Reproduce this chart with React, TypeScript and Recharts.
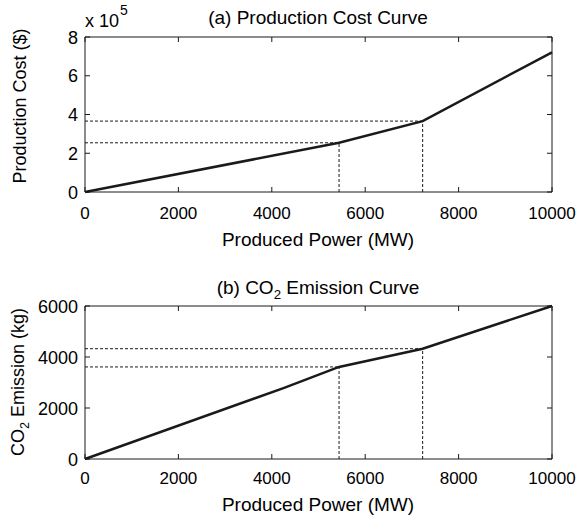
import React from 'react';
import { LineChart, Line, XAxis, YAxis, ReferenceLine, ReferenceArea } from 'recharts';

// produced power (MW) and the two curves
const powerA = [0, 5440, 7230, 10000];
const costA = [0, 254000, 366000, 721000];
const powerB = [0, 4250, 5440, 7230, 10000];
const co2B = [0, 2780, 3610, 4325, 6000];

// operating points marked with dashed guides
const markPower = [5440, 7230];
const markCost = [254000, 366000];
const markCo2 = [3610, 4325];

const xTicks = [0, 2000, 4000, 6000, 8000, 10000];
const costTicks = [0, 200000, 400000, 600000, 800000];
const co2Ticks = [0, 2000, 4000, 6000];

const W = 579;
const H = 259;
const LEFT = 85;
const RIGHT = 552;
const FONT = '"Liberation Sans", Arial, sans-serif';
const INK = '#1a1a1a';

const costData = powerA.map((p, i) => ({ p, v: costA[i] }));
const co2Data = powerB.map((p, i) => ({ p, v: co2B[i] }));

function makeXTick(top: number, gap: number) {
  return (props: any) => {
    const { x, y, payload } = props;
    return (
      <g>
        <line x1={x} x2={x} y1={y} y2={y - 5} stroke={INK} />
        <line x1={x} x2={x} y1={top} y2={top + 5} stroke={INK} />
        <text x={x} y={y + gap} textAnchor="middle" fontSize={17} fontFamily={FONT} fill="#000">
          {payload.value}
        </text>
      </g>
    );
  };
}

function makeYTick(fmt: (v: number) => string) {
  return (props: any) => {
    const { x, y, payload } = props;
    return (
      <g>
        <line x1={LEFT} x2={LEFT + 5} y1={y} y2={y} stroke={INK} />
        <line x1={RIGHT} x2={RIGHT - 5} y1={y} y2={y} stroke={INK} />
        <text x={x - 7} y={y + 6.5} textAnchor="end" fontSize={18} fontFamily={FONT} fill="#000">
          {fmt(payload.value)}
        </text>
      </g>
    );
  };
}

const textStyle: React.CSSProperties = {
  position: 'absolute',
  fontFamily: FONT,
  fontSize: 19,
  color: '#000',
  whiteSpace: 'nowrap',
  lineHeight: 1,
};
const centered: React.CSSProperties = { ...textStyle, transform: 'translateX(-50%)' };
const ylabStyle: React.CSSProperties = { ...textStyle, fontSize: 18, transform: 'translate(-50%, -50%) rotate(-90deg)' };
const subStyle: React.CSSProperties = { fontSize: '0.7em', verticalAlign: 'baseline', position: 'relative', top: 5 };

export default function App() {
  return (
    <div style={{ position: 'absolute', left: 0, top: 0, width: W, height: 518, background: '#fff' }}>
      {/* (a) production cost */}
      <div style={{ position: 'absolute', left: 0, top: 0 }}>
        <LineChart width={W} height={H} data={costData} margin={{ top: 37, right: W - RIGHT, left: 0, bottom: 0 }}>
          <XAxis
            dataKey="p"
            type="number"
            domain={[0, 10000]}
            ticks={xTicks}
            height={H - 192}
            tickSize={0}
            tickMargin={0}
            axisLine={false}
            tick={makeXTick(37, 26.5)}
          />
          <YAxis
            type="number"
            domain={[0, 800000]}
            ticks={costTicks}
            width={LEFT}
            tickSize={0}
            tickMargin={0}
            axisLine={false}
            tick={makeYTick((v) => String(v / 100000))}
          />
          <ReferenceArea x1={0} x2={10000} y1={0} y2={800000} fill="#fff" fillOpacity={0} stroke={INK} strokeWidth={1} />
          {markPower.map((p, i) => (
            <ReferenceLine key={'h' + i} segment={[{ x: 0, y: markCost[i] }, { x: p, y: markCost[i] }]} stroke={INK} strokeDasharray="3 2" />
          ))}
          {markPower.map((p, i) => (
            <ReferenceLine key={'v' + i} segment={[{ x: p, y: 0 }, { x: p, y: markCost[i] }]} stroke={INK} strokeDasharray="3 2" />
          ))}
          <Line dataKey="v" type="linear" stroke={INK} strokeWidth={2.5} dot={false} isAnimationActive={false} />
        </LineChart>
      </div>
      <div style={{ ...centered, left: 318, top: 8 }}>(a) Production Cost Curve</div>
      <div style={{ ...textStyle, fontSize: 18, left: 85, top: 12 }}>
        x 10<sup style={{ fontSize: 14, verticalAlign: 'top', position: 'relative', top: -9, marginLeft: 1 }}>5</sup>
      </div>
      <div style={{ ...centered, left: 318, top: 229.5 }}>Produced Power (MW)</div>
      <div style={{ ...ylabStyle, left: 20, top: 106 }}>Production Cost ($)</div>

      {/* (b) CO2 emission */}
      <div style={{ position: 'absolute', left: 0, top: H }}>
        <LineChart width={W} height={H} data={co2Data} margin={{ top: 47, right: W - RIGHT, left: 0, bottom: 0 }}>
          <XAxis
            dataKey="p"
            type="number"
            domain={[0, 10000]}
            ticks={xTicks}
            height={H - 200}
            tickSize={0}
            tickMargin={0}
            axisLine={false}
            tick={makeXTick(47, 25)}
          />
          <YAxis
            type="number"
            domain={[0, 6000]}
            ticks={co2Ticks}
            width={LEFT}
            tickSize={0}
            tickMargin={0}
            axisLine={false}
            tick={makeYTick((v) => String(v))}
          />
          <ReferenceArea x1={0} x2={10000} y1={0} y2={6000} fill="#fff" fillOpacity={0} stroke={INK} strokeWidth={1} />
          {markPower.map((p, i) => (
            <ReferenceLine key={'h' + i} segment={[{ x: 0, y: markCo2[i] }, { x: p, y: markCo2[i] }]} stroke={INK} strokeDasharray="3 2" />
          ))}
          {markPower.map((p, i) => (
            <ReferenceLine key={'v' + i} segment={[{ x: p, y: 0 }, { x: p, y: markCo2[i] }]} stroke={INK} strokeDasharray="3 2" />
          ))}
          <Line dataKey="v" type="linear" stroke={INK} strokeWidth={2.5} dot={false} isAnimationActive={false} />
        </LineChart>
      </div>
      <div style={{ ...centered, left: 318, top: 278 }}>
        (b) CO<sub style={subStyle}>2</sub> Emission Curve
      </div>
      <div style={{ ...centered, left: 318, top: 494.5 }}>Produced Power (MW)</div>
      <div style={{ ...ylabStyle, left: 18, top: 382 }}>
        CO<sub style={subStyle}>2</sub> Emission (kg)
      </div>
    </div>
  );
}
